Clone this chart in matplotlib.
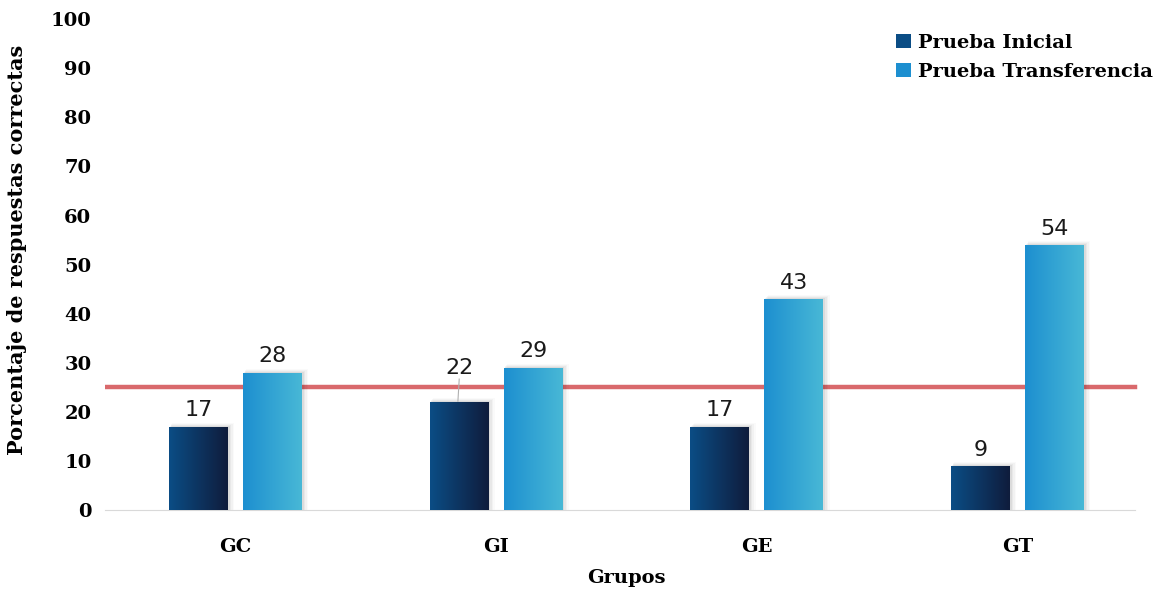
"""Porcentaje de respuestas correctas por grupo: prueba inicial vs transferencia."""

import matplotlib

matplotlib.use("Agg")
import matplotlib.pyplot as plt
import numpy as np
from matplotlib.colors import LinearSegmentedColormap
from matplotlib.patches import Rectangle

GROUPS = ["GC", "GI", "GE", "GT"]
INICIAL = [17, 22, 17, 9]
TRANSFERENCIA = [28, 29, 43, 54]
SERIES_NAMES = ["Prueba Inicial", "Prueba Transferencia"]
REFERENCE_LEVEL = 25

INICIAL_COLORS = ["#0b4d85", "#0f1c3c"]
TRANSF_COLORS = ["#1d8fd0", "#48b8d6"]

BAR_WIDTH = 0.226
OFFSET = 0.142

plt.rcParams.update({"font.family": "DejaVu Serif"})


def gradient_bar(ax, x_left, height, colors, width=BAR_WIDTH):
    # faint drop shadow on the right and top edges
    for i, a in enumerate([0.05, 0.04, 0.03, 0.02]):
        d = 0.003 * (i + 1)
        ax.add_patch(Rectangle((x_left + d, 0), width + d, height + 0.2 * (i + 1),
                               facecolor="black", edgecolor="none", alpha=a, zorder=2))
    cmap = LinearSegmentedColormap.from_list("bar", colors)
    rect = Rectangle((x_left, 0), width, height, facecolor="none", edgecolor="none", zorder=3)
    ax.add_patch(rect)
    grad = np.linspace(0, 1, 256).reshape(1, -1)
    im = ax.imshow(grad, cmap=cmap, aspect="auto", extent=(x_left, x_left + width, 0, height),
                   zorder=3, interpolation="bicubic")
    im.set_clip_path(rect)


fig = plt.figure(figsize=(11.69, 5.94), dpi=100)
ax = fig.add_axes([0.09, 0.141, 0.892, 0.827])

x = np.arange(len(GROUPS))

ax.axhline(REFERENCE_LEVEL, color="#d9696c", linewidth=3.2, zorder=1, xmax=0.988)

for i, (xi, v) in enumerate(zip(x, INICIAL)):
    left = xi - OFFSET - BAR_WIDTH / 2
    gradient_bar(ax, left, v, INICIAL_COLORS)
    # the GI label sits higher, with a leader line down to its bar
    bump = 3.6 if GROUPS[i] == "GI" else 0
    ax.text(xi - OFFSET, v + 1.3 + bump, f"{v}", ha="center", va="bottom", fontsize=16,
            family="DejaVu Sans", color="#1a1a1a", zorder=5)
    if bump:
        ax.plot([xi - OFFSET - 0.005, xi - OFFSET], [v + 0.2, v + 1.3 + bump - 0.2],
                color="#b0b0b0", linewidth=0.8, zorder=4)

for xi, v in zip(x, TRANSFERENCIA):
    left = xi + OFFSET - BAR_WIDTH / 2
    gradient_bar(ax, left, v, TRANSF_COLORS)
    ax.text(xi + OFFSET, v + 1.3, f"{v}", ha="center", va="bottom", fontsize=16,
            family="DejaVu Sans", color="#1a1a1a", zorder=5)

ax.set_xlim(-0.5, 3.5)
ax.set_ylim(0, 100)
ax.set_yticks(np.arange(0, 101, 10))
ax.set_xticks(x)
ax.set_xticklabels(GROUPS)
ax.tick_params(axis="both", length=0, labelsize=14)
ax.tick_params(axis="x", pad=20)
ax.tick_params(axis="y", pad=10)
for lab in ax.get_xticklabels() + ax.get_yticklabels():
    lab.set_fontweight("bold")

for side in ["top", "right", "left"]:
    ax.spines[side].set_visible(False)
ax.spines["bottom"].set_color("#d9d9d9")
ax.spines["bottom"].set_bounds(-0.5, 3.45)

ax.set_xlabel("Grupos", fontsize=14, fontweight="bold")
ax.xaxis.set_label_coords(0.5, -0.12)
ax.set_ylabel("Porcentaje de respuestas correctas", fontsize=15, fontweight="bold")
ax.yaxis.set_label_coords(-0.075, 0.53)

handles = [Rectangle((0, 0), 1, 1, facecolor=INICIAL_COLORS[0], edgecolor="none"),
           Rectangle((0, 0), 1, 1, facecolor=TRANSF_COLORS[0], edgecolor="none")]
leg = ax.legend(handles, SERIES_NAMES, loc="upper right", bbox_to_anchor=(1.022, 1.005), frameon=False,
                handlelength=0.75, handleheight=0.75, handletextpad=0.4, labelspacing=0.55,
                prop={"family": "DejaVu Serif", "weight": "bold", "size": 14})

fig.savefig("out.png", dpi=100)
